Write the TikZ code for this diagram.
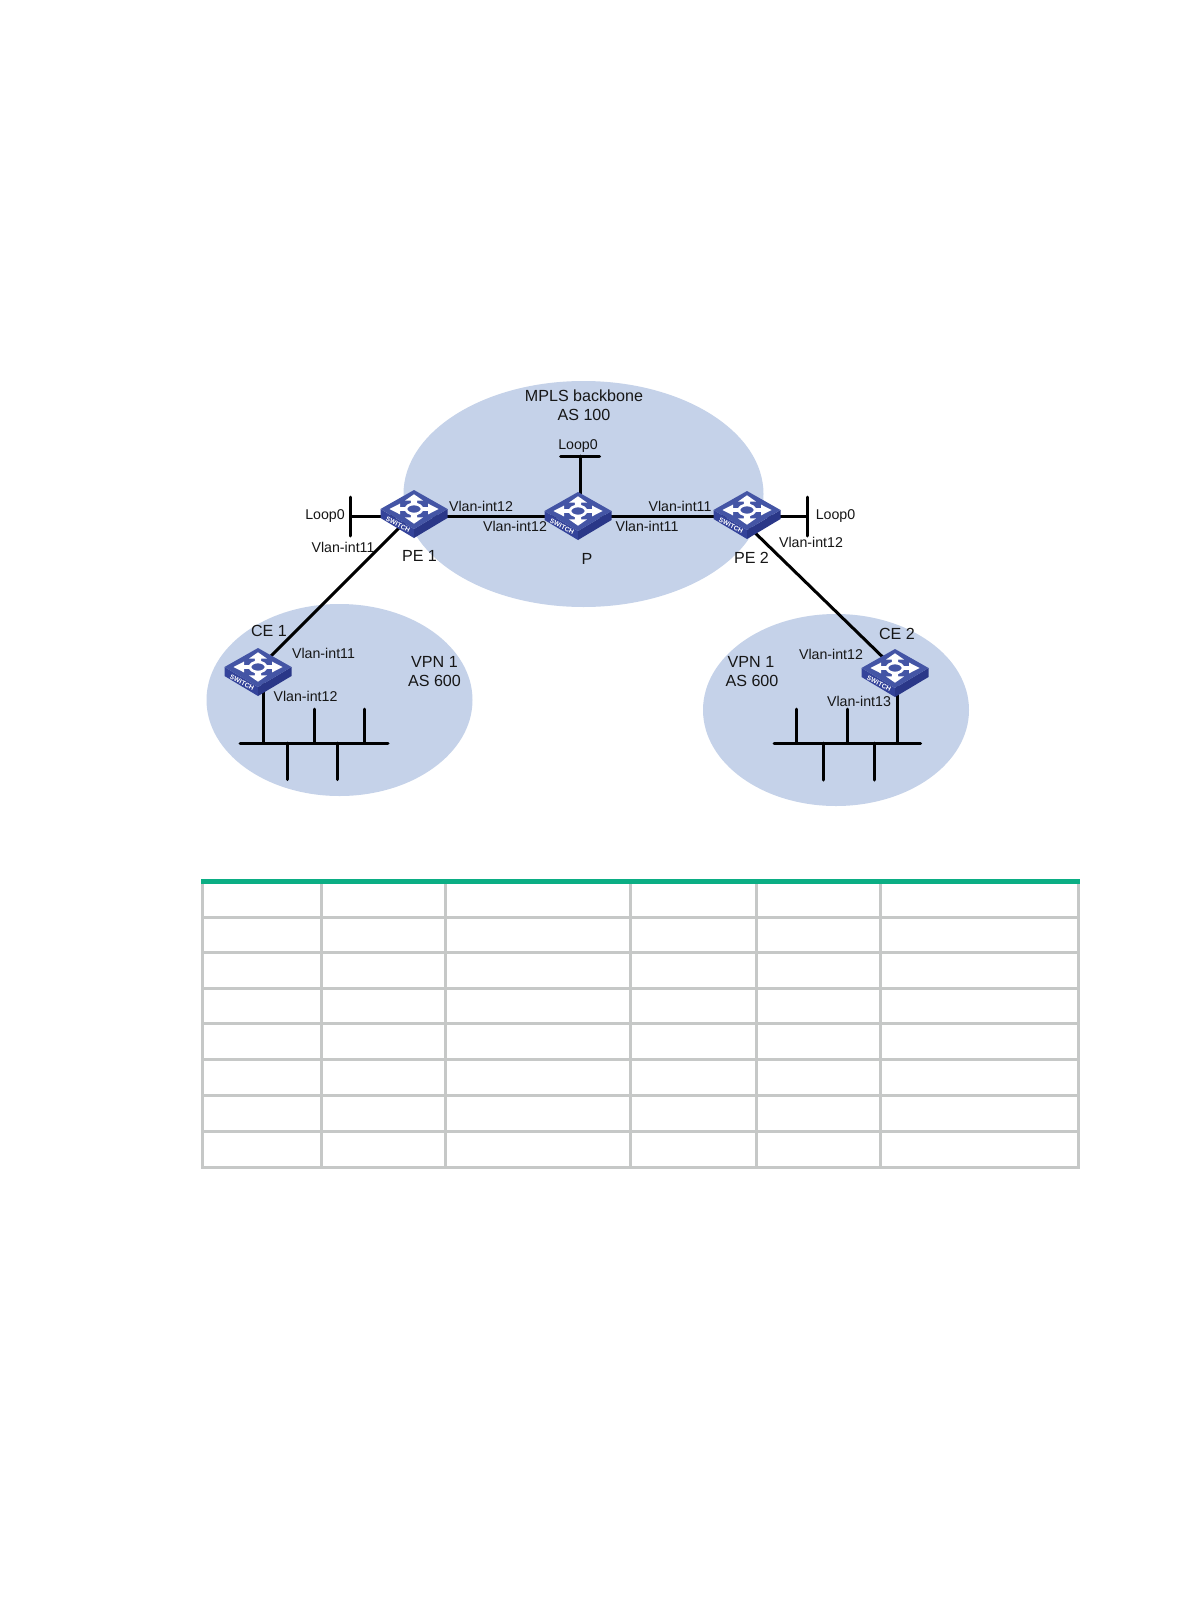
\documentclass[tikz,border=0pt]{standalone}
\usepackage{fontspec}
\usetikzlibrary{shapes.geometric}
\setmainfont{Liberation Sans}
\definecolor{cloud}{HTML}{C5D2E9}
\definecolor{swtop}{HTML}{4455A5}
\definecolor{swleft}{HTML}{34439A}
\definecolor{swright}{HTML}{2A3788}
\definecolor{tablerule}{HTML}{C6C8C7}
\definecolor{tablegreen}{HTML}{0BAE84}
\definecolor{ink}{HTML}{161616}
\tikzset{
  cloudshape/.style={ellipse,fill=cloud,inner sep=0pt},
  wire/.style={line width=3pt,black,line cap=round},
  lbl/.style={font=\fontsize{14.2}{16}\selectfont,text=ink,inner sep=0pt,anchor=center},
  biglbl/.style={font=\fontsize{16.1}{18}\selectfont,text=ink,inner sep=0pt,anchor=center},
  swbox/.style={rectangle,minimum width=66pt,minimum height=48pt,inner sep=0pt},
  gridline/.style={line width=3pt,tablerule},
  topbar/.style={line width=5pt,tablegreen}
}
\newcommand{\swart}[2]{%
  \begin{scope}[shift={(#1,#2)}]
    \fill[swleft] (-33.5,0) -- (0,20) -- (0,29) -- (-33.5,9) -- cycle;
    \fill[swright] (33.5,0) -- (0,20) -- (0,29) -- (33.5,9) -- cycle;
    \fill[swtop] (0,-19) -- (33.5,0) -- (0,20) -- (-33.5,0) -- cycle;
    \begin{scope}[yscale=0.6]
      \foreach \a in {0,90,180,270}{
        \begin{scope}[rotate=\a]
          \fill[white] (7,-3.2) -- (14,-3.2) -- (14,-9) -- (24.5,0) -- (14,9) -- (14,3.2) -- (7,3.2) -- cycle;
        \end{scope}
      }
    \end{scope}
    \draw[white,line width=2.6pt] (0,0) ellipse (8pt and 5pt);
    \node[rotate=-26,text=white,font=\fontsize{6.6}{7}\bfseries\selectfont,inner sep=0pt] at (-16,15.5) {SWITCH};
  \end{scope}}
\begin{document}
\begin{tikzpicture}[x=1pt,y=-1pt]
\useasboundingbox[fill=white] (0,0) rectangle (1190,1616);
% clouds
\node[cloudshape,minimum width=360pt,minimum height=226pt] (mpls) at (583.5,494) {};
\node[cloudshape,minimum width=266pt,minimum height=192pt] (vpna) at (339.5,700) {};
\node[cloudshape,minimum width=266pt,minimum height=192pt] (vpnb) at (836,710) {};
% switches (anchors)
\node[swbox] (pe1) at (414,516) {};
\node[swbox] (pr) at (578,516) {};
\node[swbox] (pe2) at (747,516) {};
\node[swbox] (ce1) at (258,674) {};
\node[swbox] (ce2) at (895,674) {};
% free ends
\coordinate (pe1d) at (414,513);
\coordinate (ce1d) at (258,669);
\coordinate (pe2d) at (747,525);
\coordinate (ce2d) at (895,669);
\coordinate (b1a) at (350.5,497); \coordinate (b1b) at (350.5,536); \coordinate (b1m) at (350.5,516);
\coordinate (b2a) at (807,497); \coordinate (b2b) at (807,536); \coordinate (b2m) at (807,516);
\coordinate (b3a) at (560.5,456); \coordinate (b3b) at (599.5,456); \coordinate (b3m) at (580,456);
\coordinate (n1a) at (240,743); \coordinate (n1b) at (388,743);
\coordinate (n2a) at (774,743); \coordinate (n2b) at (920.5,743);
% connectors
\draw[wire] (pe1.center) -- (pr.center);
\draw[wire] (pr.center) -- (pe2.center);
\draw[wire] (pe1.center) -- (b1m);
\draw[wire] (pe2.center) -- (b2m);
\draw[wire] (b3m) -- (580,500);
\draw[wire] (b1a) -- (b1b);
\draw[wire] (b2a) -- (b2b);
\draw[wire] (b3a) -- (b3b);
\draw[wire] (pe1d) -- (ce1d);
\draw[wire] (pe2d) -- (ce2d);
% LAN 1
\draw[wire] (n1a) -- (n1b);
\draw[wire] (263.5,680) -- (263.5,743);
\draw[wire] (314.5,709) -- (314.5,743);
\draw[wire] (364.5,709) -- (364.5,743);
\draw[wire] (287.5,743) -- (287.5,779.5);
\draw[wire] (337.5,743) -- (337.5,779.5);
% LAN 2
\draw[wire] (n2a) -- (n2b);
\draw[wire] (796.5,709) -- (796.5,743);
\draw[wire] (847,709) -- (847,743);
\draw[wire] (897.5,680) -- (897.5,743);
\draw[wire] (823.5,743) -- (823.5,780);
\draw[wire] (874,743) -- (874,780);
% switch art
\swart{414}{509}
\swart{578}{511}
\swart{747}{510}
\swart{258}{667}
\swart{895}{668}
% labels
\node[biglbl] (t1) at (584,396) {MPLS backbone};
\node[biglbl] (t2) at (584,415) {AS 100};
\node[lbl] (t3) at (578,446.5) {Loop0};
\node[lbl] (t4) at (325,516.5) {Loop0};
\node[lbl] (t5) at (835.5,516.5) {Loop0};
\node[lbl] (t6) at (481,506) {Vlan-int12};
\node[lbl] (t7) at (515,526) {Vlan-int12};
\node[lbl] (t8) at (680,506) {Vlan-int11};
\node[lbl] (t9) at (647,526) {Vlan-int11};
\node[lbl] (t10) at (343,547) {Vlan-int11};
\node[biglbl] (t11) at (419.5,556) {PE 1};
\node[biglbl] (t12) at (587,559) {P};
\node[biglbl] (t13) at (751.5,558) {PE 2};
\node[lbl] (t14) at (811,542) {Vlan-int12};
\node[biglbl] (t15) at (269,631) {CE 1};
\node[lbl] (t16) at (323.5,653) {Vlan-int11};
\node[biglbl] (t17) at (434.5,662) {VPN 1};
\node[biglbl] (t18) at (434.5,681) {AS 600};
\node[lbl] (t19) at (305.5,696.5) {Vlan-int12};
\node[biglbl] (t20) at (897,634) {CE 2};
\node[lbl] (t21) at (831,654) {Vlan-int12};
\node[biglbl] (t22) at (751,662) {VPN 1};
\node[biglbl] (t23) at (752,681) {AS 600};
\node[lbl] (t24) at (859,701) {Vlan-int13};
% table
\foreach \x in {202.5,321.5,445.5,630,756,880,1078}{
  \draw[gridline] (\x,884) -- (\x,1168.5);
}
\foreach \y in {917.5,952.5,988,1023.5,1059,1095,1131,1167}{
  \draw[gridline] (201,\y) -- (1079.5,\y);
}
\draw[topbar] (201,881.5) -- (1079.5,881.5);
\end{tikzpicture}
\end{document}
